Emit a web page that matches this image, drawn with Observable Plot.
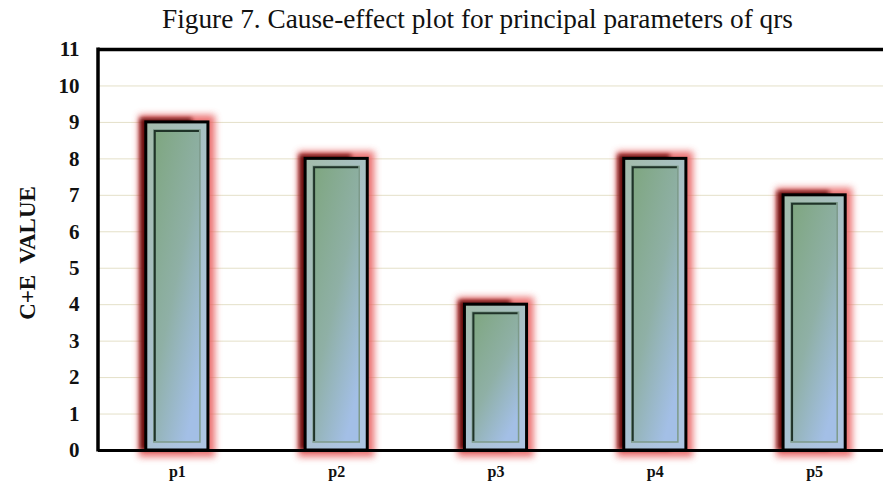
<!DOCTYPE html>
<html>
<head>
<meta charset="utf-8">
<script src="https://cdn.jsdelivr.net/npm/d3@7"></script>
<script src="https://cdn.jsdelivr.net/npm/@observablehq/plot@0.6"></script>
<style>
  html, body { margin: 0; padding: 0; background: #fff; overflow: hidden; width: 883px; height: 488px; }
  #title { font-family: "Liberation Serif", "Times New Roman", serif; font-size: 27.3px; color: #111;
           height: 40px; line-height: 39px; width: 883px; text-align: center; padding-left: 72px; box-sizing: border-box; white-space: nowrap; }
  #chart { width: 883px; height: 448px; }
  #chart svg { display: block; overflow: visible; max-width: none !important; width: 893px !important; height: 448px !important; }
</style>
</head>
<body>
<div id="title">Figure 7. Cause-effect plot for principal parameters of qrs</div>
<div id="chart"></div>
<script>
const categories = ["p1", "p2", "p3", "p4", "p5"];
const values = [9, 8, 4, 8, 7];
const yTicks = [0, 1, 2, 3, 4, 5, 6, 7, 8, 9, 10, 11];
const gridTicks = [1, 2, 3, 4, 5, 6, 7, 8, 9, 10];
const yLabel = "C+E  VALUE";

const data = categories.map((c, i) => ({cat: c, val: values[i]}));

const ML = 98;
const plot = Plot.plot({
  width: 893,
  height: 448,
  marginLeft: ML,
  marginRight: 0,
  marginTop: 9,
  marginBottom: 38,
  style: {fontFamily: "'Liberation Serif', 'Times New Roman', serif", background: "transparent"},
  x: {domain: categories, paddingInner: 0.61, paddingOuter: 0.30, round: false, label: null},
  y: {domain: [0, 11], label: null},
  marks: [
    Plot.ruleY(gridTicks, {stroke: "#e4e0c8", strokeWidth: 1}),
    // glow layers
    Plot.barY(data, {x: "cat", y: "val", fill: "#e85a5a", inset: -7}),
    Plot.barY(data, {x: "cat", y: "val", fill: "#6a0808", insetLeft: -6, insetRight: 16, insetTop: -4}),
    // main bar
    Plot.barY(data, {x: "cat", y: "val", fill: "url(#barGrad)", stroke: "#000", strokeWidth: 3}),
    // inner frame
    Plot.barY(data, {x: "cat", y: "val", fill: "url(#innerGrad)", stroke: "#7d9a8a", strokeWidth: 1.5, inset: 8}),
    Plot.axisY({ticks: yTicks, tickSize: 0, tickPadding: 19, fontSize: 21, fontWeight: "bold", fill: "#111", label: null}),
    Plot.axisX({tickSize: 0, tickPadding: 15, fontSize: 16, fontWeight: "bold", fill: "#111", label: null}),
    Plot.ruleY([0], {stroke: "#000", strokeWidth: 3}),
    Plot.ruleY([11], {stroke: "#000", strokeWidth: 3.5}),
    Plot.text([yLabel], {frameAnchor: "left", textAnchor: "middle", rotate: -90, dx: -71, dy: 3, fontSize: 23, fontWeight: "bold", fill: "#111"})
  ]
});

const svg = d3.select(plot);
const defs = svg.insert("defs", ":first-child");
const g1 = defs.append("linearGradient").attr("id", "barGrad").attr("x1", 0).attr("y1", 0).attr("x2", 0.6).attr("y2", 1);
g1.append("stop").attr("offset", "0%").attr("stop-color", "#a3bcaa");
g1.append("stop").attr("offset", "100%").attr("stop-color", "#adc4e2");
const g2 = defs.append("linearGradient").attr("id", "innerGrad").attr("x1", 0).attr("y1", 0).attr("x2", 0.7).attr("y2", 1);
g2.append("stop").attr("offset", "0%").attr("stop-color", "#7ea67f");
g2.append("stop").attr("offset", "55%").attr("stop-color", "#8fb0a6");
g2.append("stop").attr("offset", "100%").attr("stop-color", "#a3bfe6");
const f = defs.append("filter").attr("id", "glow").attr("x", "-50%").attr("y", "-20%").attr("width", "200%").attr("height", "140%");
f.append("feGaussianBlur").attr("stdDeviation", 3.5);
const f2 = defs.append("filter").attr("id", "glow2").attr("x", "-50%").attr("y", "-20%").attr("width", "200%").attr("height", "140%");
f2.append("feGaussianBlur").attr("stdDeviation", 2);

const bars = svg.selectAll("g[aria-label='bar']").nodes();
d3.select(bars[0]).attr("filter", "url(#glow)").attr("opacity", 0.85);
d3.select(bars[1]).attr("filter", "url(#glow2)");
// inner frame: dark left/top bevel line
d3.select(bars[3]).selectAll("rect").each(function() {
  const r = d3.select(this);
  const x = +r.attr("x"), y = +r.attr("y"), w = +r.attr("width"), h = +r.attr("height");
  d3.select(bars[3]).append("path")
    .attr("d", `M${x + 1},${y + h - 1}V${y + 1}H${x + w - 1}`)
    .attr("fill", "none").attr("stroke", "#1f3328").attr("stroke-width", 2);
});
// left axis line at the frame's left edge
svg.append("line").attr("x1", ML).attr("x2", ML).attr("y1", 9 - 1.5).attr("y2", 410 + 1.5)
  .attr("stroke", "#000").attr("stroke-width", 3.5);
document.getElementById("chart").appendChild(plot);
</script>
</body>
</html>
